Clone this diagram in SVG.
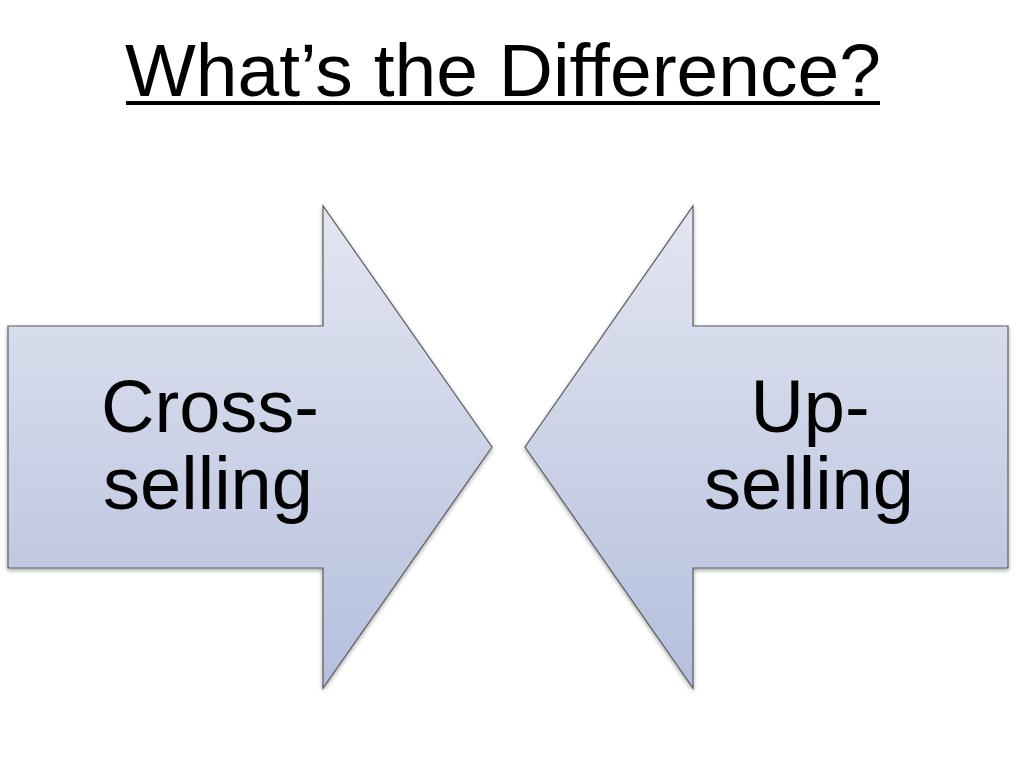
<svg xmlns="http://www.w3.org/2000/svg" width="1017" height="780" viewBox="0 0 1017 780">
  <defs>
    <linearGradient id="fill" x1="0" y1="206" x2="0" y2="688" gradientUnits="userSpaceOnUse">
      <stop offset="0" stop-color="#e3e6f1"/>
      <stop offset="1" stop-color="#b5bfdd"/>
    </linearGradient>
    <filter id="shadow" x="-5%" y="-5%" width="110%" height="110%">
      <feGaussianBlur in="SourceAlpha" stdDeviation="2"/>
      <feOffset dx="0" dy="2" result="b"/>
      <feComponentTransfer><feFuncA type="linear" slope="0.35"/></feComponentTransfer>
      <feMerge><feMergeNode/><feMergeNode in="SourceGraphic"/></feMerge>
    </filter>
  </defs>
  <style>
    .arrow { fill: url(#fill); stroke: #5c5c5c; stroke-width: 1.2; stroke-linejoin: miter; filter: url(#shadow); }
    .label { font-family: "Liberation Sans", Arial, sans-serif; font-size: 74px; fill: #000; text-anchor: middle; }
    .title { font-family: "Liberation Sans", Arial, sans-serif; font-size: 75px; fill: #000; text-anchor: middle; }
  </style>
  <rect width="1017" height="780" fill="#ffffff"/>
  <g id="title">
    <text class="title" x="503" y="96">What’s the Difference?</text>
    <rect x="126" y="101" width="754" height="4" fill="#000"/>
  </g>
  <g id="cross-selling">
    <path class="arrow" d="M8,326 L323,326 L323,206 L492,447 L323,688 L323,568 L8,568 Z"/>
    <text class="label" x="210" y="432">Cross-</text>
    <text class="label" x="208" y="509">selling</text>
  </g>
  <g id="up-selling">
    <path class="arrow" d="M1008,326 L693,326 L693,206 L525,447 L693,688 L693,568 L1008,568 Z"/>
    <text class="label" x="810" y="432">Up-</text>
    <text class="label" x="809" y="509">selling</text>
  </g>
  <g id="connectors"/>
</svg>
